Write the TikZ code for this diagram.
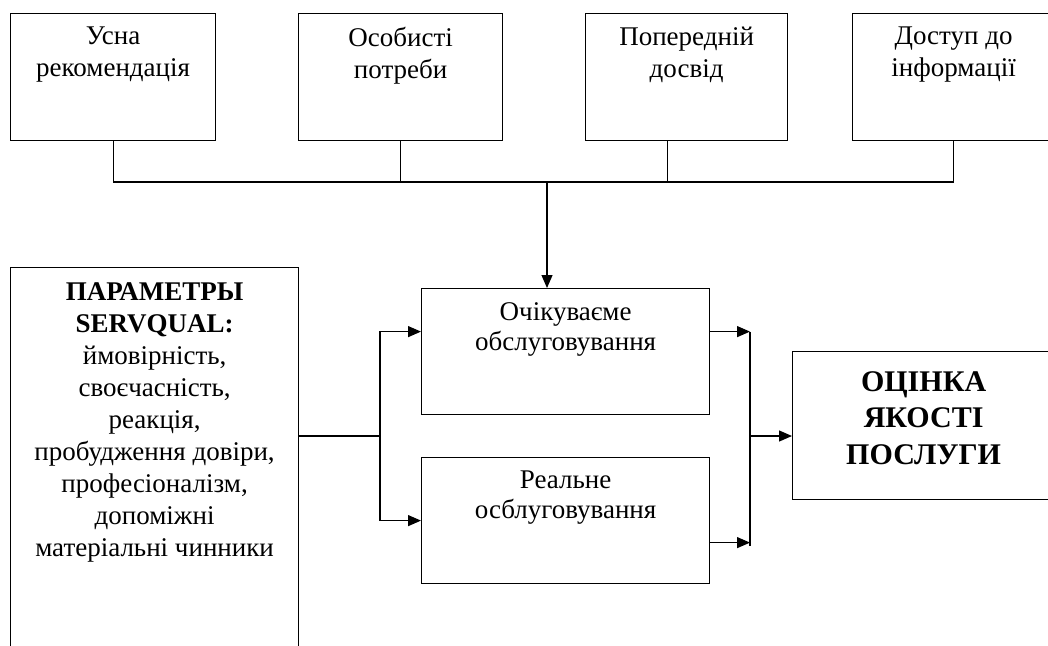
\documentclass[tikz,border=0pt]{standalone}
\usepackage{fontspec}
\setmainfont{Liberation Serif}
\usetikzlibrary{arrows.meta,calc}

\tikzset{
  box/.style={draw, line width=1.2pt, inner sep=0pt, anchor=north west},
  txt/.style={anchor=north, align=center, inner sep=0pt, font=\fontsize{27}{30}\selectfont,
    execute at begin node=\rule{0pt}{21pt}},
  link/.style={line width=1.2pt},
  arr/.style={link, -{Triangle[length=13pt,width=11pt]}},
}

\begin{document}
\begin{tikzpicture}[x=1pt,y=-1pt]
			%%%%% FRAME %%%%%
			\useasboundingbox (0,0) rectangle (1048,645);
			\clip (0,0) rectangle (1048,645);
			
			%%%%% TOP ROW %%%%%
			\node[box, minimum width=205, minimum height=127] (b1) at (10,13) {};
			\node[box, minimum width=204, minimum height=127] (b2) at (298,13) {};
			\node[box, minimum width=202, minimum height=127] (b3) at (585,13) {};
			\node[box, minimum width=202, minimum height=127] (b4) at (852,13) {};
			
			\tikzset{txt/.append style={font=\fontsize{27}{32}\selectfont}}
			\node[txt] (t1) at ([yshift=-14pt]b1.north) {Усна\\рекомендація};
			\node[txt] (t2) at ([yshift=-14pt]b2.north) {Особисті\\потреби};
			\node[txt] (t3) at ([yshift=-14pt]b3.north) {Попередній\\досвід};
			\node[txt] (t4) at ([yshift=-14pt]b4.north) {Доступ до\\інформації};
			
			%%%%% MIDDLE %%%%%
			\node[box, minimum width=288, minimum height=403] (par) at (10,267) {};
			\node[box, minimum width=288, minimum height=126] (exp) at (421,288) {};
			\node[box, minimum width=288, minimum height=126] (real) at (421,457) {};
			\node[box, minimum width=262, minimum height=148] (fin) at (792,351) {};
			
			\node[txt] (tpar) at ([yshift=-15pt]par.north)
				{\textbf{ПАРАМЕТРЫ}\\\textbf{SERVQUAL:}\\ймовірність,\\своєчасність,\\реакція,\\пробудження довіри,\\професіоналізм,\\допоміжні\\матеріальні чинники};
			\node[txt, font=\fontsize{27}{30}\selectfont] (texp) at ([yshift=-14pt]exp.north) {Очікуваєме\\обслуговування};
			\node[txt, font=\fontsize{27}{30}\selectfont] (treal) at ([yshift=-14pt]real.north) {Реальне\\осблуговування};
			\node[txt, font=\fontsize{30}{36.5}\selectfont\bfseries] (tfin) at ([yshift=-20pt]fin.north) {ОЦІНКА\\ЯКОСТІ\\ПОСЛУГИ};
			
			%%%%% CONNECTORS %%%%%
			\coordinate (bus) at (547,182);
			\draw[link] (b1.south) |- (bus) -| (b4.south);
			\draw[link] (b2.south) -- (b2.south |- bus);
			\draw[link] ([xshift=-19pt]b3.south) -- ([xshift=-19pt]b3.south |- bus);
			\draw[arr] (bus) -- (bus |- exp.north);
			
			\coordinate (split) at (380,436);
			\draw[link] (par.east |- split) -- (split);
			\draw[arr] (split) |- ([yshift=20pt]exp.west);
			\draw[arr] (split) |- (real.west);
			
			\coordinate (join) at (750,436);
			\draw[arr] ([yshift=20pt]exp.east) -- ([yshift=20pt]exp.east -| join);
			\draw[arr] ([yshift=-22pt]real.east) -- ([yshift=-22pt]real.east -| join);
			\draw[link] ([yshift=20pt]exp.east -| join) -- ([yshift=-25pt]real.east -| join);
			\draw[arr] (join) -- (fin.west |- join);
			
			%%%%% END %%%%%
\end{tikzpicture}
\end{document}
